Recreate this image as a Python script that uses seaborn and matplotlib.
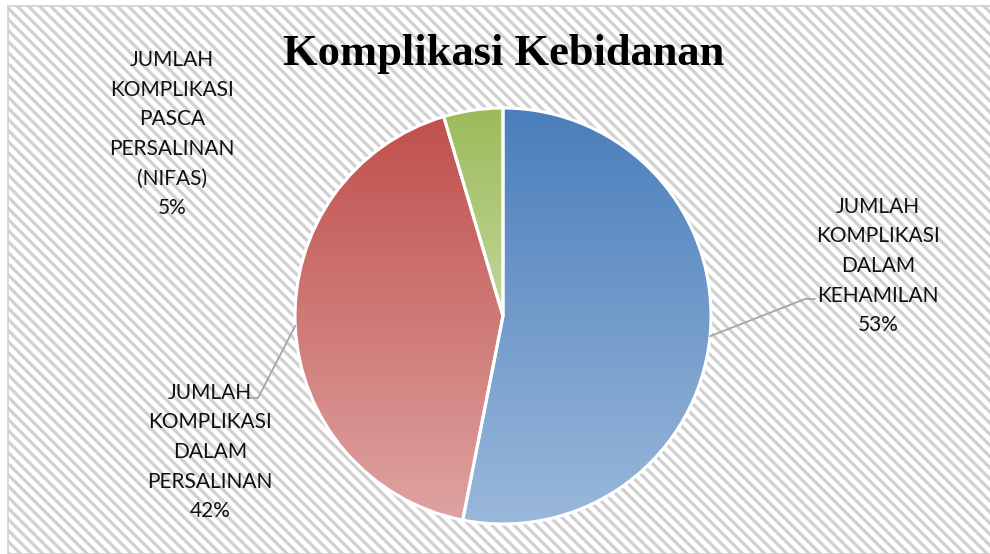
import numpy as np
import matplotlib
matplotlib.use("Agg")
import matplotlib.pyplot as plt
import seaborn as sns
from matplotlib.colors import LinearSegmentedColormap
from matplotlib.patches import Rectangle

# data (share of complications, %)
categories = [
    "JUMLAH\nKOMPLIKASI\nDALAM\nKEHAMILAN",
    "JUMLAH\nKOMPLIKASI\nDALAM\nPERSALINAN",
    "JUMLAH\nKOMPLIKASI\nPASCA\nPERSALINAN\n(NIFAS)",
]
shares = [53.1, 42.3, 4.6]
top_colors = ["#4a7ebb", "#c0504d", "#9bbb59"]
bottom_colors = ["#9ab8db", "#dea3a1", "#c3d69b"]
title = "Komplikasi Kebidanan"

sns.set_theme(style="white")
plt.rcParams["font.family"] = ["Lato", "DejaVu Sans"]
plt.rcParams["hatch.linewidth"] = 2.3
plt.rcParams["hatch.color"] = "#e4e4e4"

W, H = 990, 554
CX, CY, R = 503, 316, 208  # pie centre / radius in pixels


def px(x, y):
    """pixel position (from top-left) -> data coords of the pie axes"""
    return (x - CX) / R, (CY - y) / R


fig = plt.figure(figsize=(W / 100, H / 100), dpi=100)
fig.patch.set_facecolor("white")
fig.patches.append(Rectangle((8 / W, 0), 1, 1 - 6 / H, transform=fig.transFigure,
                             facecolor="white", edgecolor="#d0d0d0", hatch="\\\\\\",
                             linewidth=1.2, zorder=-1))

ax = fig.add_axes([0, 0, 1, 1])
ax.axis("off")
ax.patch.set_alpha(0)

wedges, _ = ax.pie(shares, startangle=90, counterclock=False, radius=1,
                   colors=top_colors,
                   wedgeprops=dict(edgecolor="white", linewidth=2.2))

# vertical gradient inside every wedge
for w, c0, c1 in zip(wedges, top_colors, bottom_colors):
    bb = w.get_path().get_extents(w.get_patch_transform())
    cmap = LinearSegmentedColormap.from_list("g", [c0, c1])
    grad = np.linspace(0, 1, 256).reshape(-1, 1)
    im = ax.imshow(grad, cmap=cmap, aspect="auto", origin="upper",
                   extent=(bb.x0, bb.x1, bb.y0, bb.y1), zorder=1)
    im.set_clip_path(w)
    w.set_facecolor("none")
    w.set_zorder(2)
ax.set_xlim(-CX / R, (W - CX) / R)
ax.set_ylim((CY - H) / R, CY / R)

# label centres and leader elbows in pixels
label_pos = [(878, 266), (210, 452), (172, 134)]
elbows = [[(805, 299), (815, 299)], [(258, 398), (247, 398)], None]

for w, cat, val, (lx, ly), elb in zip(wedges, categories, shares, label_pos, elbows):
    ax.text(*px(lx, ly), f"{cat}\n{val:.0f}%", ha="center", va="center",
            multialignment="center", fontsize=15, linespacing=1.6,
            color="#111111", zorder=4)
    if elb:
        mid = np.deg2rad((w.theta1 + w.theta2) / 2)
        pts = [(np.cos(mid), np.sin(mid))] + [px(*p) for p in elb]
        xs, ys = zip(*pts)
        ax.plot(xs, ys, color="#a6a6a6", linewidth=1.3, zorder=3)

ax.text(*px(CX + 1, 65), title, ha="center", va="baseline", fontsize=32,
        fontweight="bold", family=["Liberation Serif", "DejaVu Serif"], color="black")

fig.savefig("out.png", dpi=100)
